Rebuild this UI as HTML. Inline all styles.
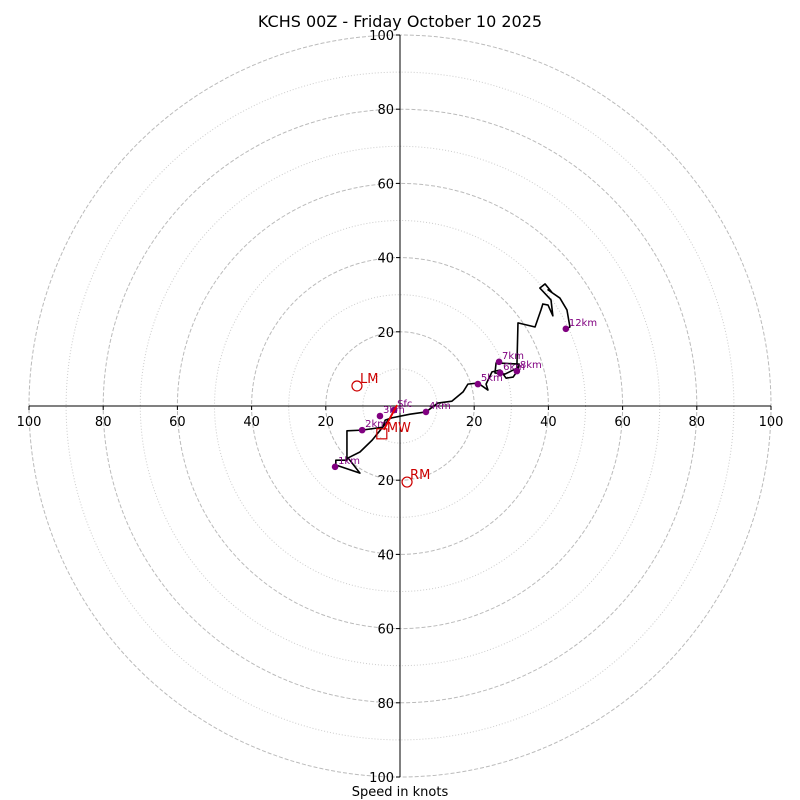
<!DOCTYPE html>
<html><head><meta charset="utf-8"><style>
body{margin:0;background:#fff}
svg{display:block;font-family:"DejaVu Sans","Liberation Sans",sans-serif}
</style></head><body>
<svg id="chart" width="800" height="800" viewBox="0 0 800 800">
<text x="400" y="27" text-anchor="middle" font-size="16" fill="#000">KCHS 00Z - Friday October 10 2025</text>
<text x="400" y="796" text-anchor="middle" font-size="13" fill="#000">Speed in knots</text>
<g id="grid"></g><g id="axes"></g><g id="trace"></g><g id="marks"></g>
</svg>
<script>
const ringMajor=[20,40,60,80,100];
const ringMinor=[10,30,50,70,90];
const tickVals=[20,40,60,80,100];
const traceU=[-1.6,-2.7,-4.0,-7.5,-10.8,-14.0,-10.8,-17.3,-17.3,-14.3,-14.3,-10.2,-4.6,-4.0,-2.2,2.7,7.0,10.2,14.0,17.0,18.3,21.0,23.7,23.2,24.8,27.0,28.6,30.5,31.8,32.1,25.9,25.6,28.3,31.5,31.8,36.4,38.0,38.5,39.9,41.2,40.7,37.7,39.1,40.9,39.9,43.1,45.0,45.8,44.7];
const traceV=[-1.1,-3.2,-4.9,-9.2,-12.4,-14.0,-18.1,-15.9,-14.6,-14.6,-6.7,-6.5,-5.7,-3.8,-3.2,-2.2,-1.6,0.8,1.3,3.8,5.9,6.2,4.3,5.9,9.2,9.7,7.5,7.8,9.7,11.3,11.6,8.9,8.6,10.2,22.4,21.3,25.9,27.5,27.2,24.3,28.6,31.8,32.9,30.7,31.3,29.1,25.9,21.3,20.8];
const hLabels=["Sfc","1km","2km","3km","4km","5km","6km","7km","8km","12km"];
const hU=[-1.6,-17.5,-10.2,-5.4,7.0,21.0,27.0,26.7,31.5,44.7];
const hV=[-1.1,-16.4,-6.5,-2.7,-1.6,5.9,8.9,11.9,9.4,20.8];
const motionNames=["LM","RM"];
const motionU=[-11.6,1.9];
const motionV=[5.4,-20.5];
const mwU=[-4.9];
const mwV=[-7.5];

const NS="http://www.w3.org/2000/svg";
const cx=400,cy=406,k=3.71;
const X=u=>cx+u*k, Y=v=>cy-v*k, R=s=>s*k;
function mk(tag,attrs,parent){const e=document.createElementNS(NS,tag);for(const a in attrs)e.setAttribute(a,attrs[a]);document.getElementById(parent).appendChild(e);return e;}

ringMinor.forEach(s=>{const c=mk('circle',{cx:cx,cy:cy,r:R(s),fill:'none',stroke:'#ccc','stroke-width':1,'stroke-dasharray':'1,2'},'grid');

});
ringMajor.forEach(s=>{const c=mk('circle',{cx:cx,cy:cy,r:R(s),fill:'none',stroke:'#bbb','stroke-width':1,'stroke-dasharray':'4,2'},'grid');

});

let l=mk('line',{x1:X(-100),y1:cy,x2:X(100),y2:cy,stroke:'#000','stroke-width':1},'axes');


l=mk('line',{x1:cx,y1:Y(100),x2:cx,y2:Y(-100),stroke:'#000','stroke-width':1},'axes');


tickVals.forEach(s=>{
 [s,-s].forEach(u=>{
  mk('line',{x1:X(u),y1:cy,x2:X(u),y2:cy+4,stroke:'#000'},'axes');
  const t=mk('text',{x:X(u),y:cy+20,'text-anchor':'middle','font-size':13,fill:'#000'},'axes');t.textContent=s;
  
  
  mk('line',{x1:cx-4,y1:Y(u),x2:cx,y2:Y(u),stroke:'#000'},'axes');
  const ty=mk('text',{x:cx-6,y:Y(u)+5,'text-anchor':'end','font-size':13,fill:'#000'},'axes');ty.textContent=s;
  
  
 });
});

const pts=traceU.map((u,i)=>X(u)+','+Y(traceV[i])).join(' ');
const pl=mk('polyline',{points:pts,fill:'none',stroke:'#000','stroke-width':1.6,'stroke-linejoin':'round'},'trace');



hLabels.forEach((n,i)=>{
 const d=mk('circle',{cx:X(hU[i]),cy:Y(hV[i]),r:3.3,fill:'#800080'},'marks');
 
 
 const t=mk('text',{x:X(hU[i])+3,y:Y(hV[i])-3,'font-size':10,fill:'#800080'},'marks');t.textContent=n;
 
 
});

// MW arrow
const ar=mk('line',{x1:X(hU[0])+3,y1:Y(hV[0])-5,x2:X(mwU[0])+2,y2:Y(mwV[0])-4,stroke:'#e00','stroke-width':1.8},'marks');


const sq=mk('rect',{x:X(mwU[0])-5,y:Y(mwV[0])-5,width:10,height:10,fill:'none',stroke:'#c00','stroke-width':1.2},'marks');


const mt=mk('text',{x:X(mwU[0])+5,y:Y(mwV[0])-2,'font-size':13,fill:'#c00'},'marks');mt.textContent='MW';



motionNames.forEach((n,i)=>{
 const c=mk('circle',{cx:X(motionU[i]),cy:Y(motionV[i]),r:5,fill:'none',stroke:'#c00','stroke-width':1.2},'marks');
 
 
 const t=mk('text',{x:X(motionU[i])+3,y:Y(motionV[i])-3,'font-size':13,fill:'#c00'},'marks');t.textContent=n;
 
 
});
</script>
</body></html>
